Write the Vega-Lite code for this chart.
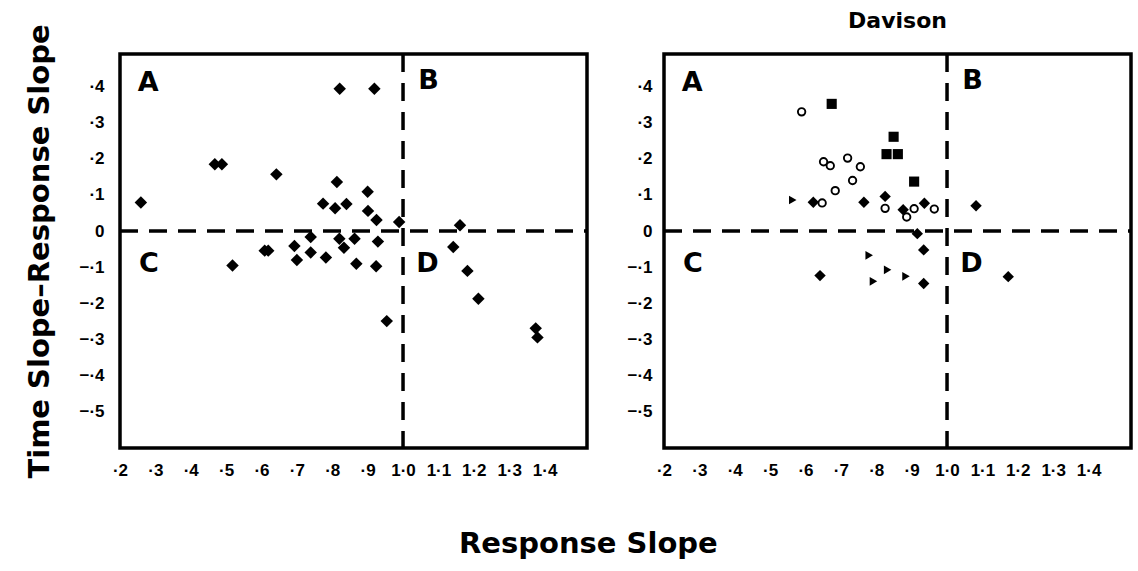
{
  "$schema": "https://vega.github.io/schema/vega-lite/v6.json",
  "background": "white",
  "padding": {"left": 24, "top": 8, "right": 5, "bottom": 8},
  "bounds": "flush",
  "spacing": 77,
  "config": {
    "font": "DejaVu Sans",
    "view": {"stroke": "black", "strokeWidth": 3.5},
    "axis": {"grid": false, "ticks": false, "domain": false, "labelFont": "Liberation Sans", "labelFontWeight": "bold", "labelFontSize": 17, "labelColor": "black", "titleColor": "black", "titleFont": "DejaVu Sans", "labelOverlap": false, "labelFlush": false, "labelBound": false},
    "axisX": {"labelOverlap": false},
    "axisBottom": {"labelOverlap": false},
    "legend": {"disable": true}
  },
  "title": {"text": "Response Slope", "orient": "bottom", "anchor": "middle", "fontSize": 29, "fontWeight": "bold", "font": "DejaVu Sans", "color": "black", "offset": 50, "dx": 9},
  "datasets": {
    "left": [
      {"x": 0.259, "y": 0.079}, {"x": 0.468, "y": 0.185}, {"x": 0.488, "y": 0.185}, {"x": 0.642, "y": 0.157},
      {"x": 0.821, "y": 0.394}, {"x": 0.919, "y": 0.394}, {"x": 0.813, "y": 0.136}, {"x": 0.900, "y": 0.109},
      {"x": 0.774, "y": 0.076}, {"x": 0.808, "y": 0.063}, {"x": 0.840, "y": 0.075}, {"x": 0.901, "y": 0.056},
      {"x": 0.925, "y": 0.031}, {"x": 0.989, "y": 0.025}, {"x": 1.161, "y": 0.016},
      {"x": 0.609, "y": -0.054}, {"x": 0.619, "y": -0.054}, {"x": 0.693, "y": -0.041}, {"x": 0.739, "y": -0.016},
      {"x": 0.739, "y": -0.059}, {"x": 0.700, "y": -0.080}, {"x": 0.782, "y": -0.073}, {"x": 0.820, "y": -0.021},
      {"x": 0.833, "y": -0.046}, {"x": 0.863, "y": -0.021}, {"x": 0.929, "y": -0.029}, {"x": 0.868, "y": -0.090},
      {"x": 0.924, "y": -0.097}, {"x": 0.518, "y": -0.095}, {"x": 0.954, "y": -0.249}, {"x": 1.142, "y": -0.044},
      {"x": 1.182, "y": -0.110}, {"x": 1.213, "y": -0.187}, {"x": 1.375, "y": -0.269}, {"x": 1.380, "y": -0.294}
    ],
    "right": [
      {"x": 0.589, "y": 0.330, "marker": "circle"}, {"x": 0.651, "y": 0.192, "marker": "circle"},
      {"x": 0.670, "y": 0.181, "marker": "circle"}, {"x": 0.719, "y": 0.202, "marker": "circle"},
      {"x": 0.755, "y": 0.178, "marker": "circle"}, {"x": 0.733, "y": 0.140, "marker": "circle"},
      {"x": 0.684, "y": 0.112, "marker": "circle"}, {"x": 0.647, "y": 0.078, "marker": "circle"},
      {"x": 0.825, "y": 0.063, "marker": "circle"}, {"x": 0.886, "y": 0.039, "marker": "circle"},
      {"x": 0.907, "y": 0.062, "marker": "circle"}, {"x": 0.964, "y": 0.061, "marker": "circle"},
      {"x": 0.674, "y": 0.352, "marker": "square"}, {"x": 0.849, "y": 0.261, "marker": "square"},
      {"x": 0.829, "y": 0.213, "marker": "square"}, {"x": 0.861, "y": 0.213, "marker": "square"},
      {"x": 0.907, "y": 0.137, "marker": "square"},
      {"x": 0.622, "y": 0.080, "marker": "diamond"}, {"x": 0.765, "y": 0.080, "marker": "diamond"},
      {"x": 0.825, "y": 0.096, "marker": "diamond"}, {"x": 0.876, "y": 0.059, "marker": "diamond"},
      {"x": 0.936, "y": 0.077, "marker": "diamond"}, {"x": 0.916, "y": -0.007, "marker": "diamond"},
      {"x": 0.934, "y": -0.052, "marker": "diamond"}, {"x": 0.641, "y": -0.123, "marker": "diamond"},
      {"x": 0.934, "y": -0.145, "marker": "diamond"}, {"x": 1.082, "y": 0.070, "marker": "diamond"},
      {"x": 1.173, "y": -0.126, "marker": "diamond"},
      {"x": 0.564, "y": 0.086, "marker": "triangle"}, {"x": 0.780, "y": -0.067, "marker": "triangle"},
      {"x": 0.832, "y": -0.107, "marker": "triangle"}, {"x": 0.884, "y": -0.125, "marker": "triangle"},
      {"x": 0.792, "y": -0.139, "marker": "triangle"}
    ],
    "quadrants": [
      {"label": "A", "x": 0.28, "y": 0.41}, {"label": "B", "x": 1.072, "y": 0.415},
      {"label": "C", "x": 0.282, "y": -0.09}, {"label": "D", "x": 1.069, "y": -0.09}
    ],
    "refs": [
      {"x": 0.2, "x2": 1.52, "y": 0, "y2": 0},
      {"x": 1.0, "x2": 1.0, "y": 0.49, "y2": -0.6}
    ]
  },
  "hconcat": [
    {
      "width": 467,
      "height": 394,
      "encoding": {
        "x": {"field": "x", "type": "quantitative", "scale": {"domain": [0.2, 1.52], "nice": false, "zero": false},
              "axis": {"values": [0.2, 0.3, 0.4, 0.5, 0.6, 0.7, 0.8, 0.9, 1.0, 1.1, 1.2, 1.3, 1.4], "labelExpr": "datum.value < 0.99 ? '·' + round(datum.value*10) : '1·' + round(datum.value*10 - 10)", "labelPadding": 14, "labelOverlap": false, "labelSeparation": 0, "title": null}},
        "y": {"field": "y", "type": "quantitative", "scale": {"domain": [-0.6, 0.49], "nice": false, "zero": false},
              "axis": {"values": [-0.5, -0.4, -0.3, -0.2, -0.1, 0, 0.1, 0.2, 0.3, 0.4], "labelExpr": "datum.value > 0.01 ? '·' + round(datum.value*10) : (datum.value < -0.01 ? '−·' + round(-datum.value*10) : '0')", "labelPadding": 16, "labelOverlap": false, "title": "Time Slope–Response Slope", "titleFontSize": 29, "titleFontWeight": "bold", "titlePadding": 24}}
      },
      "layer": [
        {
          "data": {"name": "refs"},
          "mark": {"type": "rule", "strokeDash": [18, 11], "strokeWidth": 3.5, "color": "black"},
          "encoding": {"x2": {"field": "x2"}, "y2": {"field": "y2"}}
        },
        {
          "data": {"name": "left"},
          "mark": {"type": "point", "shape": "diamond", "filled": true, "color": "black", "size": 155, "opacity": 1}
        },
        {
          "data": {"name": "quadrants"},
          "mark": {"type": "text", "fontSize": 27, "fontWeight": "bold", "color": "black", "align": "center", "baseline": "middle"},
          "encoding": {"text": {"field": "label"}}
        }
      ]
    },
    {
      "width": 467,
      "height": 394,
      "title": {"text": "Davison", "fontSize": 22, "fontWeight": "bold", "font": "DejaVu Sans", "color": "black", "anchor": "middle", "offset": 19},
      "encoding": {
        "x": {"field": "x", "type": "quantitative", "scale": {"domain": [0.2, 1.52], "nice": false, "zero": false},
              "axis": {"values": [0.2, 0.3, 0.4, 0.5, 0.6, 0.7, 0.8, 0.9, 1.0, 1.1, 1.2, 1.3, 1.4], "labelExpr": "datum.value < 0.99 ? '·' + round(datum.value*10) : '1·' + round(datum.value*10 - 10)", "labelPadding": 14, "labelOverlap": false, "labelSeparation": 0, "title": null}},
        "y": {"field": "y", "type": "quantitative", "scale": {"domain": [-0.6, 0.49], "nice": false, "zero": false},
              "axis": {"values": [-0.5, -0.4, -0.3, -0.2, -0.1, 0, 0.1, 0.2, 0.3, 0.4], "labelExpr": "datum.value > 0.01 ? '·' + round(datum.value*10) : (datum.value < -0.01 ? '−·' + round(-datum.value*10) : '0')", "labelPadding": 12, "labelOverlap": false, "title": null}}
      },
      "layer": [
        {
          "data": {"name": "refs"},
          "mark": {"type": "rule", "strokeDash": [18, 11], "strokeWidth": 3.5, "color": "black"},
          "encoding": {"x2": {"field": "x2"}, "y2": {"field": "y2"}}
        },
        {
          "data": {"name": "right"},
          "transform": [{"filter": "datum.marker != 'circle'"}],
          "mark": {"type": "point", "filled": true, "color": "black", "opacity": 1},
          "encoding": {
            "shape": {"field": "marker", "type": "nominal", "scale": {"domain": ["diamond", "square", "triangle"], "range": ["diamond", "square", "triangle-right"]}},
            "size": {"field": "marker", "type": "nominal", "scale": {"domain": ["diamond", "square", "triangle"], "range": [130, 75, 90]}}
          }
        },
        {
          "data": {"name": "right"},
          "transform": [{"filter": "datum.marker == 'circle'"}],
          "mark": {"type": "point", "shape": "circle", "filled": false, "fill": "white", "stroke": "black", "strokeWidth": 1.9, "size": 55, "opacity": 1}
        },
        {
          "data": {"name": "quadrants"},
          "mark": {"type": "text", "fontSize": 27, "fontWeight": "bold", "color": "black", "align": "center", "baseline": "middle"},
          "encoding": {"text": {"field": "label"}}
        }
      ]
    }
  ]
}
